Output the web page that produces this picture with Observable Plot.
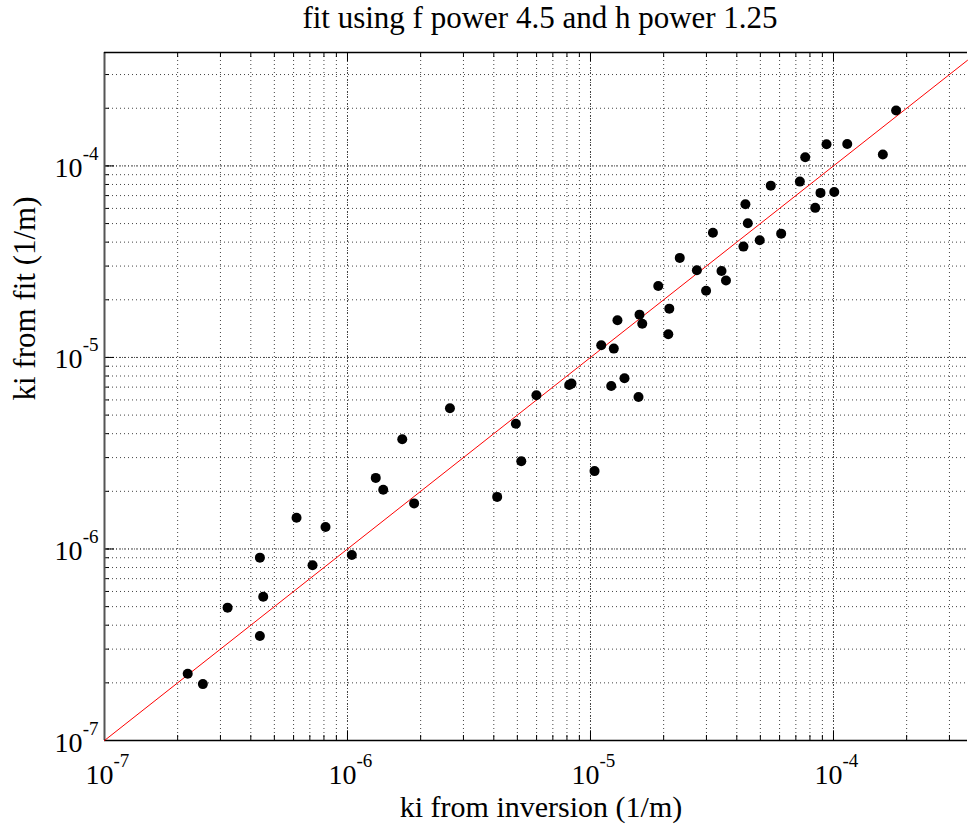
<!DOCTYPE html>
<html>
<head>
<meta charset="utf-8">
<script src="https://cdn.jsdelivr.net/npm/d3@7"></script>
<script src="https://cdn.jsdelivr.net/npm/@observablehq/plot@0.6"></script>
<style>
  html, body { margin: 0; padding: 0; background: #fff; }
  #chart { width: 968px; height: 828px; }
</style>
</head>
<body>
<div id="chart"></div>
<script>
// ---- data ----
const kiInversion = [2.20e-7, 2.54e-7, 3.21e-7, 4.36e-7, 4.36e-7, 4.50e-7, 6.17e-7, 7.18e-7, 8.12e-7, 1.042e-6,
  1.307e-6, 1.403e-6, 1.68e-6, 1.88e-6, 2.64e-6, 4.13e-6, 4.93e-6, 5.19e-6, 5.99e-6, 8.17e-6,
  8.35e-6, 1.039e-5, 1.107e-5, 1.247e-5, 1.291e-5, 1.217e-5, 1.380e-5, 1.576e-5, 1.591e-5, 1.633e-5,
  1.90e-5, 2.09e-5, 2.11e-5, 2.33e-5, 2.74e-5, 2.99e-5, 3.19e-5, 3.46e-5, 3.61e-5, 4.26e-5,
  4.34e-5, 4.44e-5, 4.97e-5, 5.52e-5, 6.09e-5, 7.27e-5, 7.65e-5, 8.41e-5, 8.84e-5, 1.007e-4,
  9.36e-5, 1.139e-4, 1.596e-4, 1.81e-4];
const kiFit = [2.23e-7, 1.97e-7, 4.94e-7, 9.01e-7, 3.51e-7, 5.63e-7, 1.457e-6, 8.22e-7, 1.302e-6, 9.30e-7,
  2.35e-6, 2.04e-6, 3.74e-6, 1.73e-6, 5.43e-6, 1.87e-6, 4.51e-6, 2.87e-6, 6.35e-6, 7.18e-6,
  7.30e-6, 2.55e-6, 1.158e-5, 1.112e-5, 1.564e-5, 7.10e-6, 7.79e-6, 6.22e-6, 1.673e-5, 1.501e-5,
  2.36e-5, 1.322e-5, 1.798e-5, 3.31e-5, 2.85e-5, 2.23e-5, 4.48e-5, 2.83e-5, 2.52e-5, 3.79e-5,
  6.31e-5, 5.02e-5, 4.09e-5, 7.89e-5, 4.43e-5, 8.28e-5, 1.11e-4, 6.04e-5, 7.23e-5, 7.31e-5,
  1.298e-4, 1.302e-4, 1.146e-4, 1.945e-4];
const fitLine = [1e-7, 3.56e-4];           // one-to-one reference line
const xDomain = [1e-7, 3.56e-4];
const yDomain = [1e-7, 3.91e-4];
const majorTicks = [1e-7, 1e-6, 1e-5, 1e-4];
const tickBase = "10";
const tickExponents = ["-7", "-6", "-5", "-4"];
const titleText = "fit using f power 4.5 and h power 1.25";
const xLabel = "ki from inversion (1/m)";
const yLabel = "ki from fit (1/m)";

// ---- layout ----
const W = 968, H = 828;
const mL = 104, mR = 1, mT = 52, mB = 88;
const plotW = W - mL - mR, plotH = H - mT - mB;
const minorX = d3.scaleLog().domain(xDomain).ticks();
const minorY = d3.scaleLog().domain(yDomain).ticks();
const font = "'Liberation Serif', 'Times New Roman', serif";
const gridColor = "#444";

const points = kiInversion.map((x, i) => ({x, y: kiFit[i]}));

const chart = Plot.plot({
  width: W, height: H,
  marginLeft: mL, marginRight: mR, marginTop: mT, marginBottom: mB,
  style: {fontFamily: font, background: "#fff", color: "#000"},
  x: {type: "log", domain: xDomain, axis: null},
  y: {type: "log", domain: yDomain, axis: null},
  marks: [
    // dotted grid
    Plot.ruleX(minorX, {x: d => d, stroke: gridColor, strokeWidth: 1, strokeDasharray: "1,3"}),
    Plot.ruleY(minorY, {y: d => d, stroke: gridColor, strokeWidth: 1, strokeDasharray: "1,3"}),
    Plot.ruleX(majorTicks, {x: d => d, stroke: gridColor, strokeWidth: 1, strokeDasharray: "1,2"}),
    Plot.ruleY(majorTicks, {y: d => d, stroke: gridColor, strokeWidth: 1, strokeDasharray: "1,2"}),
    // inward ticks
    Plot.tickX(minorX, {x: d => d, insetTop: plotH - 5, stroke: "#000"}),
    Plot.tickX(majorTicks, {x: d => d, insetTop: plotH - 9, stroke: "#000"}),
    Plot.tickX(minorX, {x: d => d, insetBottom: plotH - 5, stroke: "#000"}),
    Plot.tickX(majorTicks, {x: d => d, insetBottom: plotH - 9, stroke: "#000"}),
    Plot.tickY(minorY, {y: d => d, insetRight: plotW - 5, stroke: "#000"}),
    Plot.tickY(majorTicks, {y: d => d, insetRight: plotW - 10, stroke: "#000"}),
    // axis box (left, bottom, top)
    Plot.ruleX([xDomain[0]], {x: d => d, stroke: "#555", strokeWidth: 2}),
    Plot.ruleY([yDomain[0]], {y: d => d, stroke: "#000", strokeWidth: 1.5}),
    Plot.ruleY([yDomain[1]], {y: d => d, stroke: "#000", strokeWidth: 1.5}),
    // 1:1 line
    Plot.line(fitLine, {x: d => d, y: d => d, stroke: "#ff0000", strokeWidth: 1}),
    // data
    Plot.dot(points, {x: "x", y: "y", r: 5, fill: "#000", stroke: "none"}),
    // x tick labels
    Plot.text(majorTicks, {x: d => d, text: () => tickBase, frameAnchor: "bottom", lineAnchor: "bottom",
      textAnchor: "end", dx: 9, dy: 43, fontSize: 28, fill: "#000"}),
    Plot.text(majorTicks, {x: d => d, text: (d, i) => tickExponents[i], frameAnchor: "bottom", lineAnchor: "bottom",
      textAnchor: "start", dx: 9, dy: 26, fontSize: 19, fill: "#000"}),
    // y tick labels
    Plot.text(majorTicks, {y: d => d, text: () => tickBase, frameAnchor: "left", lineAnchor: "bottom",
      textAnchor: "end", dx: -22, dy: 11, fontSize: 28, fill: "#000"}),
    Plot.text(majorTicks, {y: d => d, text: (d, i) => tickExponents[i], frameAnchor: "left", lineAnchor: "bottom",
      textAnchor: "end", dx: -6, dy: -6, fontSize: 19, fill: "#000"}),
    // title and axis labels
    Plot.text([titleText], {text: d => d, frameAnchor: "top", lineAnchor: "bottom", dx: 4, dy: -25, fontSize: 31, fill: "#000"}),
    Plot.text([xLabel], {text: d => d, frameAnchor: "bottom", lineAnchor: "bottom", dx: 5, dy: 76, fontSize: 30, fill: "#000"}),
    Plot.text([yLabel], {text: d => d, frameAnchor: "left", lineAnchor: "bottom", rotate: -90, dx: -70, dy: 4, fontSize: 31, fill: "#000"})
  ]
});
document.getElementById("chart").appendChild(chart);
</script>
</body>
</html>
